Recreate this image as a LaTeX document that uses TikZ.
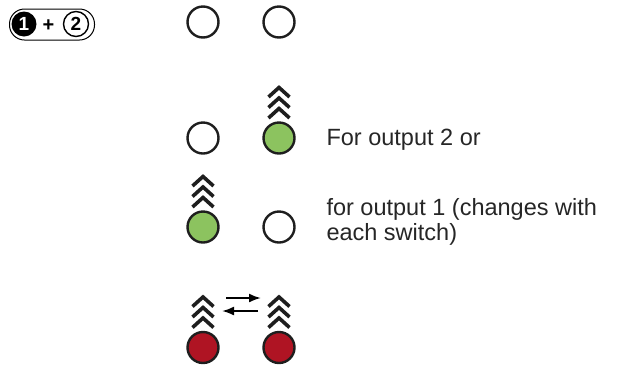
\documentclass[tikz,border=0pt]{standalone}
\usepackage{fontspec}
\setmainfont{Liberation Sans}
\usepackage{tikz}
\usetikzlibrary{calc,arrows.meta}
\definecolor{ledgreen}{RGB}{140,195,95}
\definecolor{ledred}{RGB}{175,20,35}
\definecolor{ledline}{RGB}{30,30,30}
% three chevrons above a lamp
\newcommand{\blink}[1]{%
  \foreach \k in {0,1,2}
    \draw[chevron] ($(#1)+(-10.5,-41+10.5*\k)$) -- ($(#1)+(0,-50.5+10.5*\k)$) -- ($(#1)+(10.5,-41+10.5*\k)$);
}

\begin{document}
\begin{tikzpicture}[x=1pt,y=-1pt]
        %
        % `led' is a lamp, `chevron' marks a blinking lamp.
        \tikzstyle{led} = [draw=ledline,line width=2.4pt,circle,minimum size=31pt,inner sep=0pt]
        \tikzstyle{chevron} = [draw=ledline,line width=3.6pt,miter limit=10]
        \tikzstyle{note} = [anchor=west,align=left,text=black!85,font=\fontsize{23.5}{25}\selectfont]
        \tikzstyle{badgenum} = [circle,minimum size=25pt,inner sep=0pt,font=\bfseries\fontsize{19}{19}\selectfont]
        %
        \useasboundingbox (0,0) rectangle (617,365);
        %
        % Badge
        \node[draw,line width=1pt,rounded corners=15pt,minimum width=85pt,minimum height=31pt] (badge) at (52,24.5) {};
        \node[badgenum,fill=black,text=white] (one) at (24,24) {1};
        \node[font=\bfseries\fontsize{20}{20}\selectfont] (plus) at (48.5,25.5) {+};
        \node[badgenum,draw,line width=1.4pt] (two) at (76,24) {2};
        %
        % Row 1
        \node[led] (l11) at (203,22) {};
        \node[led] (l12) at (279,22) {};
        %
        % Row 2
        \node[led] (l21) at (203,138) {};
        \node[led,fill=ledgreen] (l22) at (279,138) {};
        \blink{l22}
        \node[note] (t2) at (323,140) {For output 2 or};
        %
        % Row 3
        \node[led,fill=ledgreen] (l31) at (203,227) {};
        \node[led] (l32) at (279,227) {};
        \blink{l31}
        \node[note] (t3) at (323,222) {for output 1 (changes with\\each switch)};
        %
        % Row 4
        \node[led,fill=ledred] (l41) at (203,347.5) {};
        \node[led,fill=ledred] (l42) at (279,347.5) {};
        \blink{l41}
        \blink{l42}
        \coordinate (sw1) at (226,298);
        \coordinate (sw2) at (261,298);
        \coordinate (sw3) at (258,311);
        \coordinate (sw4) at (222,311);
        \draw[line width=2pt,-{Latex[length=12pt,width=9pt]}] (sw1) -- (sw2);
        \draw[line width=2pt,-{Latex[length=12pt,width=9pt]}] (sw3) -- (sw4);
        %
\end{tikzpicture}
\end{document}
